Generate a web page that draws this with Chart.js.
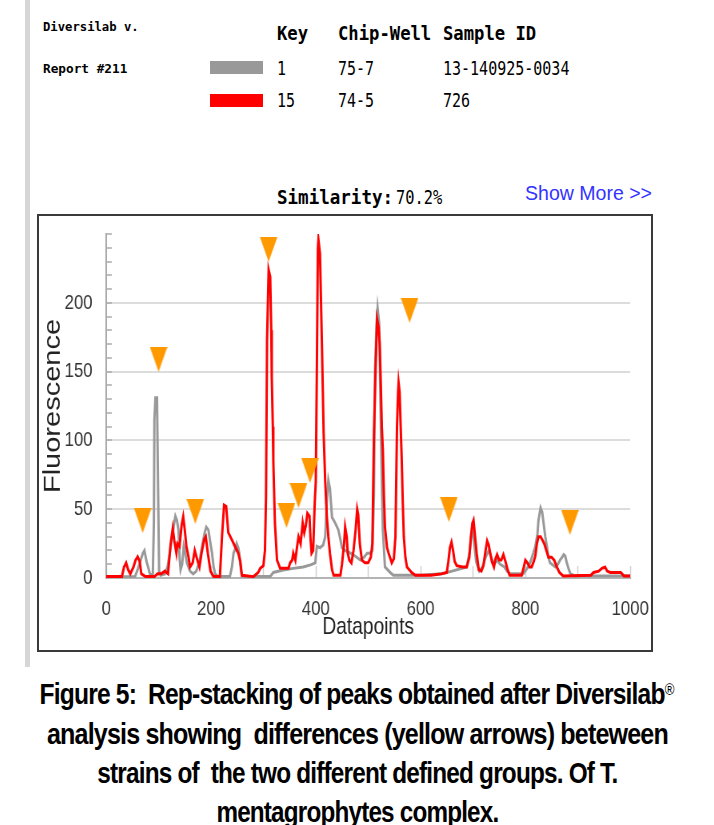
<!DOCTYPE html>
<html><head><meta charset="utf-8">
<script src="https://cdn.jsdelivr.net/npm/chart.js@4.4.1/dist/chart.umd.min.js"></script>
<style>
html,body{margin:0;padding:0;background:#fff;overflow:hidden;width:714px;height:825px;}
.abs{position:absolute;white-space:nowrap;line-height:1;transform-origin:0 0;color:#000;}
.mono{font-family:'DejaVu Sans Mono',monospace;}
.b{font-weight:bold;}
.cap{position:absolute;left:-300px;width:1314px;text-align:center;font-family:'Liberation Sans Narrow','Liberation Sans',Arial,sans-serif;font-weight:bold;font-size:30px;line-height:30px;color:#000;white-space:nowrap;}
.cap span{display:inline-block;transform-origin:50% 50%;letter-spacing:-1px;}
.cap sup{font-weight:normal;font-size:16px;vertical-align:top;position:relative;top:-4px;}
</style></head><body>
<div style="position:absolute;left:25px;top:0;width:5px;height:667px;background:#d6d6d6"></div>

<div class="abs mono b" style="left:43px;top:19.5px;font-size:13px;transform:scaleX(0.94)">Diversilab v.</div>
<div class="abs mono b" style="left:43px;top:61.5px;font-size:13px;transform:scaleX(0.98)">Report #211</div>

<div class="abs mono b" style="left:277px;top:22.7px;font-size:20px;transform:scaleX(0.86)">Key</div>
<div class="abs mono b" style="left:338px;top:22.7px;font-size:20px;transform:scaleX(0.86)">Chip-Well</div>
<div class="abs mono b" style="left:443px;top:22.7px;font-size:20px;transform:scaleX(0.86)">Sample ID</div>

<div style="position:absolute;left:210px;top:61px;width:53px;height:13px;background:#999"></div>
<div class="abs mono" style="left:277px;top:57.7px;font-size:20px;transform:scaleX(0.75)">1</div>
<div class="abs mono" style="left:338px;top:57.7px;font-size:20px;transform:scaleX(0.75)">75-7</div>
<div class="abs mono" style="left:443px;top:57.7px;font-size:20px;transform:scaleX(0.75)">13-140925-0034</div>

<div style="position:absolute;left:210px;top:94px;width:53px;height:13px;background:#ff0000"></div>
<div class="abs mono" style="left:277px;top:89.7px;font-size:20px;transform:scaleX(0.75)">15</div>
<div class="abs mono" style="left:338px;top:89.7px;font-size:20px;transform:scaleX(0.75)">74-5</div>
<div class="abs mono" style="left:443px;top:89.7px;font-size:20px;transform:scaleX(0.75)">726</div>

<div class="abs mono b" style="left:277px;top:186.7px;font-size:20px;transform:scaleX(0.876)">Similarity:</div>
<div class="abs mono" style="left:396px;top:186.7px;font-size:20px;transform:scaleX(0.77)">70.2%</div>
<div class="abs" style="left:525px;top:182.3px;font-size:21px;font-family:'Liberation Sans',Arial,sans-serif;color:#3333ff;transform:scaleX(0.93)">Show More &gt;&gt;</div>

<div style="position:absolute;left:37px;top:214px;width:612px;height:434px;border:2px solid #3a3a3a"></div>
<canvas id="c" width="765" height="434" style="position:absolute;left:39px;top:216px;transform:scaleX(0.8);transform-origin:0 0"></canvas>

<div class="cap" style="top:679px"><span data-w="634">Figure 5:&nbsp; Rep-stacking of peaks obtained after Diversilab<sup>®</sup></span></div>
<div class="cap" style="top:718.5px"><span data-w="621">analysis showing&nbsp; differences (yellow arrows) beteween</span></div>
<div class="cap" style="top:757.8px"><span data-w="520">strains of&nbsp; the two different defined groups. Of T.</span></div>
<div class="cap" style="top:797px"><span data-w="282">mentagrophytes complex.</span></div>

<script>
// ---- data ----
const xTickLabels = [0, 200, 400, 600, 800, 1000];
const yTickLabels = [0, 50, 100, 150, 200];

const grayX = [0,55,60,65,70,73,77,80,84,89,
  91,92,94,97,99,101,104,112,117,120,
  125,129,132,135,138,140,142,145,148,151,
  154,160,166,172,178,183,188,191,195,199,
  202,205,208,214,236,240,243,247,249,252,
  254,257,259,313,319,338,357,376,390,399,
  402,408,414,418,421,424,427,431,434,437,
  443,447,450,456,466,475,485,492,498,503,
  508,511,513,516,518,521,524,526,528,532,
  542,548,600,640,660,688,694,698,701,706,
  712,718,724,730,735,740,746,752,760,765,
  771,796,805,809,815,819,823,825,829,832,
  834,838,841,844,847,857,862,866,870,873,
  876,879,883,886,895,1000];
const grayY = [0.5,1,6,12,18,20,12,8,2,3,
  40,115,131,131,65,5,2,3,8,15,
  27,38,45,42,35,15,6,10,23,18,
  11,5,3,5,12,23,33,37,35,25,
  18,8,3,1,1,8,18,22,25,22,
  18,6,1,1,4,5.8,7,8,9.5,11,
  23,22,24,30,55,71,65,44,42,40,
  35,28,22,20,18,16,13,15,18,18,
  20,60,151,185,196,185,115,70,35,8,
  4,2,2,3,5,8,20,35,30,12,
  5,8,15,20,15,10,13,10,8,5,
  3,3,8,11,18,23,32,42,51,48,
  42,30,23,15,11,8,10,13,15,17,
  16,11,6,3,1.5,1.5];

const redX = [0,30,34,38,42,46,52,56,60,64,
  67,75,92,98,105,112,118,123,127,130,
  134,136,140,144,147,150,153,157,160,165,
  169,174,178,182,187,190,194,199,205,217,
  221,225,229,233,240,246,252,256,259,281,
  290,294,300,303,305,307,310,313,315,316,
  318,319,322,326,332,348,351,355,357,361,
  364,367,371,375,378,381,384,388,390,392,
  395,398,400,402,404,405,408,410,412,415,
  418,421,424,427,431,434,447,450,454,456,
  459,461,464,468,472,476,479,481,484,488,
  494,500,505,508,511,514,517,520,522,524,
  526,528,530,532,536,539,545,549,552,555,
  557,558,560,562,564,566,568,571,574,583,
  590,620,640,650,653,656,659,662,665,669,
  680,688,693,696,699,701,704,707,711,716,
  720,724,727,730,733,736,740,743,746,750,
  754,758,762,766,770,793,797,800,804,808,
  812,816,819,822,825,829,832,836,840,844,
  850,855,860,865,872,925,930,940,946,952,
  956,962,982,988,1000];
const redY = [1,1,8,11,6,3,8,13,15.5,12,
  3,1,1,3,3,5,3,25,36,27,
  18,25,23,38.5,44.6,35,23,15.5,8,11,
  20,13,8,18,28,30,18,5,1,1,
  30,53,52,33,27.6,22.8,18,12,2,1,
  4,7,9,20,59,173,224,219,180,146,
  110,84,40,13,7,7,11,13,18,13,
  22,30,25,40,33,38,47,45,28,18,
  20,55,70,150,240,246,236,200,164,105,
  70,45,30,18,6,2,2,10,25,37,
  30,18,13,11,20,35,50,46,25,13,
  11,11,15,25,105,150,188,182,170,142,
  110,93,60,37,22,18,11,14,30,110,
  135,142,135,110,86,55,30,15,8,4,
  2,2,3,4,12,22,26,20,12,9,
  8,8,15,30,40,42,30,18,6,5,
  9,20,27,24,18,12,8,14,17,13,
  13,17,12,6,2,2,8,13,11,8,
  8,12,16,25,30,30,28,25,20,15,
  15,13,8,4,1.5,2,4,5,7,8,
  5,4,4,1.5,1.5];

// difference markers (yellow arrows)
const arrowX = [69.6, 100, 170, 310, 344, 367, 389, 579, 654, 885];
const arrowY = [41.8, 158.9, 48.4, 238.9, 45.5, 60, 78.2, 194.5, 49.8, 40.4];

// ---- build ----
const pts = (xs, ys) => xs.slice(0, Math.min(xs.length, ys.length)).map((x, i) => ({x: x, y: ys[i]}));

const tri = document.createElement('canvas');
tri.width = 22; tri.height = 25;
const tc = tri.getContext('2d');
tc.fillStyle = '#ff9900';
tc.beginPath(); tc.moveTo(0, 0); tc.lineTo(22, 0); tc.lineTo(11, 25); tc.closePath(); tc.fill();

const FONT = "'Liberation Sans', Arial, sans-serif";

new Chart(document.getElementById('c'), {
  type: 'scatter',
  data: {
    datasets: [
      {label: 'differences', data: pts(arrowX, arrowY), pointStyle: tri, pointRadius: 12, pointHoverRadius: 12, showLine: false, clip: false, order: 0},
      {label: '15', data: pts(redX, redY), showLine: true, borderColor: '#ff0000', borderWidth: 3, pointRadius: 0, tension: 0, order: 1},
      {label: '1', data: pts(grayX, grayY), showLine: true, borderColor: '#999999', borderWidth: 3, pointRadius: 0, tension: 0, order: 2}
    ]
  },
  options: {
    responsive: false,
    animation: false,
    events: [],
    layout: {padding: 0},
    plugins: {legend: {display: false}, tooltip: {enabled: false}},
    scales: {
      x: {
        type: 'linear', min: 0, max: 1000,
        afterFit: s => { s.height = 72; s.paddingLeft = 0; s.paddingRight = 26; },
        border: {display: true, color: '#b4b4b4', width: 2},
        grid: {drawOnChartArea: false, drawTicks: true, tickLength: -12, tickColor: '#d0d0d0', tickWidth: 1.5},
        ticks: {stepSize: 100, autoSkip: false, maxRotation: 0, padding: 31, color: '#333',
          font: {family: FONT, size: 21},
          callback: v => xTickLabels.includes(v) ? String(v) : ''},
        title: {display: true, text: 'Datapoints', color: '#222', font: {family: FONT, size: 24}, padding: {top: 0, bottom: 8}}
      },
      y: {
        min: 0, max: 250,
        afterFit: s => { s.width = 84; s.paddingTop = 18; s.paddingBottom = 0; },
        border: {display: true, color: '#aaaaaa', width: 2},
        grid: {
          color: c => (c.tick && yTickLabels.includes(c.tick.value) && c.tick.value > 0) ? '#dcdcdc' : 'rgba(0,0,0,0)',
          lineWidth: 2, drawTicks: true, tickLength: -7, tickColor: '#aaaaaa', tickWidth: 1.5
        },
        ticks: {stepSize: 10, autoSkip: false, padding: 24, color: '#333',
          font: {family: FONT, size: 21},
          callback: v => yTickLabels.includes(v) ? String(v) : ''},
        title: {display: true, text: 'Fluorescence', color: '#222', font: {family: FONT, size: 29}, padding: {top: 1, bottom: 0}}
      }
    }
  }
});

// fit caption lines to the reference widths
document.querySelectorAll('.cap span').forEach(sp => {
  const w = sp.getBoundingClientRect().width;
  const t = +sp.dataset.w;
  if (w > 0) sp.style.transform = 'scaleX(' + (t / w) + ')';
});
</script>
</body></html>
